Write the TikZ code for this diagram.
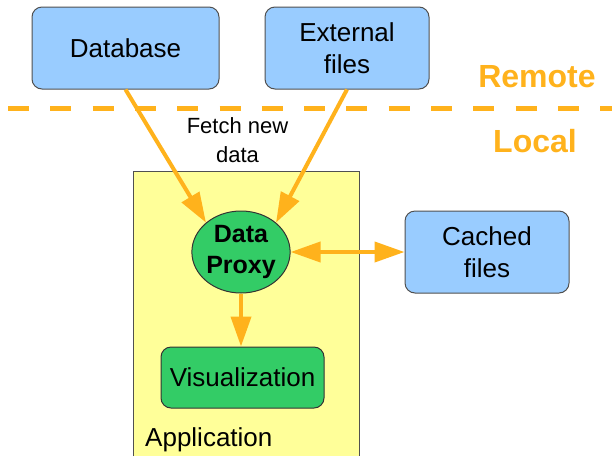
\documentclass[tikz,border=0pt]{standalone}
\usepackage{fontspec}
\setmainfont{Liberation Sans}
\usetikzlibrary{shapes.geometric,arrows.meta}
\definecolor{boxblue}{HTML}{99CCFF}
\definecolor{boxgreen}{HTML}{33CC66}
\definecolor{appyellow}{HTML}{FFFF99}
\definecolor{arrorange}{HTML}{FFB21C}
\definecolor{edgegray}{HTML}{505050}
\tikzset{
  bluebox/.style={draw=edgegray, line width=1pt, fill=boxblue, rounded corners=10pt,
    align=center, inner sep=0pt, font=\fontsize{26}{32}\selectfont},
  greenbox/.style={draw=black!80, line width=1pt, fill=boxgreen, rounded corners=10pt,
    align=center, inner sep=0pt, font=\fontsize{26}{32}\selectfont},
  flow/.style={draw=arrorange, line width=4pt,
    -{Triangle[length=30pt,width=20pt]}},
  flowboth/.style={draw=arrorange, line width=4pt,
    {Triangle[length=30pt,width=20pt]}-{Triangle[length=30pt,width=20pt]}},
  zonelabel/.style={text=arrorange, font=\fontsize{32}{36}\selectfont\bfseries, inner sep=0pt, anchor=base}
}
\begin{document}
\begin{tikzpicture}[x=1pt,y=-1pt]
\useasboundingbox (0,0) rectangle (612,456);
% application area
\fill[appyellow] (133,171) rectangle (359,456);
\draw[edgegray, line width=1pt] (133,456) -- (133,171) -- (359,171) -- (359,456);
% remote/local divider
\draw[arrorange, line width=5pt, dash pattern=on 21pt off 21.3pt] (8,108) -- (612,108);
\node[zonelabel] (remote) at (537,87) {Remote};
\node[zonelabel] (local) at (535,152) {Local};
% nodes
\node[bluebox, minimum width=187pt, minimum height=82pt] (db) at (125.5,48) {Database};
\node[bluebox, minimum width=164pt, minimum height=82pt] (ext) at (347,48) {External\\files};
\node[bluebox, minimum width=164pt, minimum height=82pt] (cache) at (487,252) {Cached\\files};
\node[draw=black!80, line width=1pt, fill=boxgreen, ellipse, minimum width=93pt, minimum height=82pt,
  inner sep=0pt, align=center, font=\fontsize{25}{31}\selectfont\bfseries] (proxy) at (241,252) {Data\\Proxy};
\node[greenbox, minimum width=163pt, minimum height=61pt] (vis) at (242.5,377.5) {Visualization};
\node[inner sep=0pt, anchor=base west, font=\fontsize{26}{32}\selectfont] (app) at (145,446) {Application};
\node[inner sep=0pt, align=center, font=\fontsize{22}{29}\selectfont] (fetch) at (237.5,140) {Fetch new\\data};
% connectors
\draw[flow] (db.south) -- (proxy.140);
\draw[flow] (ext.south) -- (proxy.40);
\draw[flow] (proxy.south) -- (vis.north -| proxy.south);
\draw[flowboth] (proxy.east) -- (cache.west);
\end{tikzpicture}
\end{document}
